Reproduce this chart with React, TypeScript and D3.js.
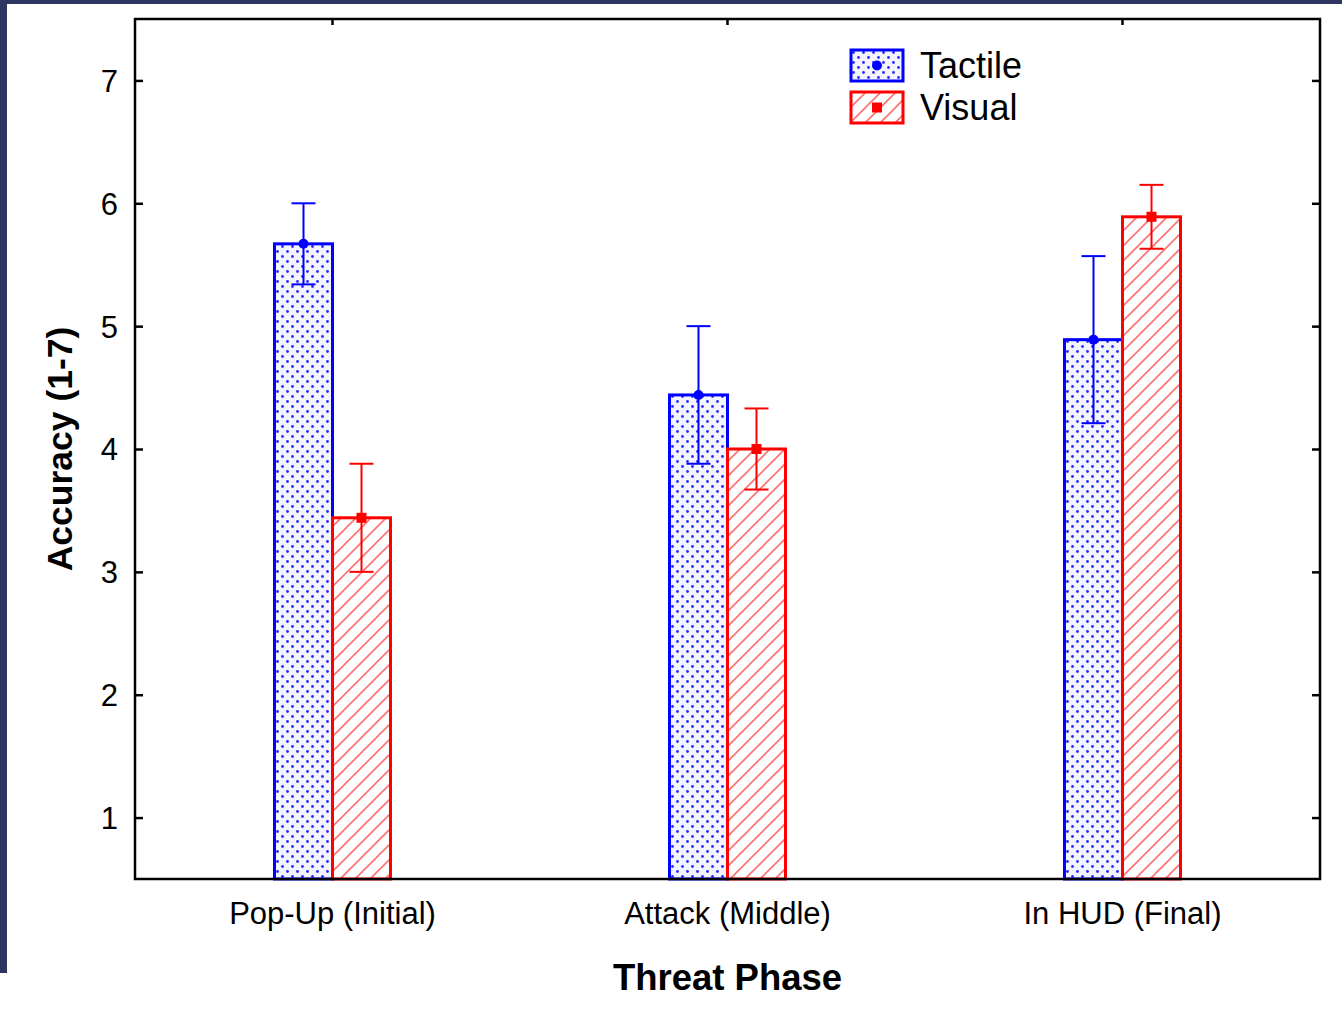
import * as d3 from "d3";
import { useEffect, useRef } from "react";

// chart values
const phases = ["Pop-Up (Initial)", "Attack (Middle)", "In HUD (Final)"];
const groups = ["Tactile", "Visual"];
const tactileMean = [5.67, 4.44, 4.89];
const tactileErr = [0.33, 0.56, 0.68];
const visualMean = [3.44, 4.0, 5.89];
const visualErr = [0.44, 0.33, 0.26];
const yTicks = [1, 2, 3, 4, 5, 6, 7];

const App = () => {
  const ref = useRef<SVGSVGElement>(null);

  useEffect(() => {
    const W = 1342, H = 1027;
    const margin = { top: 19, right: 22, bottom: 148, left: 135 };
    const width = W - margin.left - margin.right;
    const height = H - margin.top - margin.bottom;
    const font = "'Liberation Sans', Arial, sans-serif";

    const svg = d3.select(ref.current);
    svg.selectAll("*").remove();

    // the dark frame around the slide
    svg.append("rect").attr("x", 0).attr("y", 0).attr("width", W).attr("height", 4).attr("fill", "#2e3560");
    svg.append("rect").attr("x", 0).attr("y", 0).attr("width", 7).attr("height", 973).attr("fill", "#2e3560");

    const defs = svg.append("defs");
    const dots = defs.append("pattern")
      .attr("id", "dots").attr("patternUnits", "userSpaceOnUse")
      .attr("width", 10).attr("height", 10);
    dots.append("rect").attr("width", 10).attr("height", 10).attr("fill", "#f4f4ff");
    dots.append("circle").attr("cx", 2.5).attr("cy", 2.5).attr("r", 1.4).attr("fill", "#2a2aff");
    dots.append("circle").attr("cx", 7.5).attr("cy", 7.5).attr("r", 1.4).attr("fill", "#2a2aff");

    const hatch = defs.append("pattern")
      .attr("id", "hatch").attr("patternUnits", "userSpaceOnUse")
      .attr("width", 15).attr("height", 15);
    hatch.append("rect").attr("width", 15).attr("height", 15).attr("fill", "#fff");
    hatch.append("path").attr("d", "M-4,4 L4,-4 M0,15 L15,0 M11,19 L19,11")
      .attr("stroke", "#ff7070").attr("stroke-width", 1.6);

    const g = svg.append("g").attr("transform", `translate(${margin.left},${margin.top})`);

    const x = d3.scaleBand().domain(phases).range([0, width]);
    const xs = d3.scaleBand().domain(groups).range([-58, 58]);
    const y = d3.scaleLinear().domain([0.5, 7.5]).range([height, 0]);

    const series = [
      { name: "Tactile", mean: tactileMean, err: tactileErr, color: "#0000ff", fill: "url(#dots)" },
      { name: "Visual", mean: visualMean, err: visualErr, color: "#ff0000", fill: "url(#hatch)" },
    ];

    series.forEach((s) => {
      const data = phases.map((p, i) => ({ p, v: s.mean[i], e: s.err[i] }));
      const bx = (p: string) => x(p)! + x.bandwidth() / 2 + xs(s.name)!;
      g.selectAll(null).data(data).enter().append("rect")
        .attr("x", (d) => bx(d.p))
        .attr("y", (d) => y(d.v))
        .attr("width", xs.bandwidth())
        .attr("height", (d) => height - y(d.v))
        .attr("fill", s.fill)
        .attr("stroke", s.color).attr("stroke-width", 3);
    });

    series.forEach((s) => {
      const data = phases.map((p, i) => ({ p, v: s.mean[i], e: s.err[i] }));
      const cx = (p: string) => x(p)! + x.bandwidth() / 2 + xs(s.name)! + xs.bandwidth() / 2;
      const eb = g.selectAll(null).data(data).enter().append("g").attr("stroke", s.color).attr("stroke-width", 2);
      eb.append("line").attr("x1", (d) => cx(d.p)).attr("x2", (d) => cx(d.p))
        .attr("y1", (d) => y(d.v + d.e)).attr("y2", (d) => y(d.v - d.e));
      eb.append("line").attr("x1", (d) => cx(d.p) - 12).attr("x2", (d) => cx(d.p) + 12)
        .attr("y1", (d) => y(d.v + d.e)).attr("y2", (d) => y(d.v + d.e));
      eb.append("line").attr("x1", (d) => cx(d.p) - 12).attr("x2", (d) => cx(d.p) + 12)
        .attr("y1", (d) => y(d.v - d.e)).attr("y2", (d) => y(d.v - d.e));
      if (s.name === "Tactile") {
        g.selectAll(null).data(data).enter().append("circle")
          .attr("cx", (d) => cx(d.p)).attr("cy", (d) => y(d.v)).attr("r", 5).attr("fill", s.color);
      } else {
        g.selectAll(null).data(data).enter().append("rect")
          .attr("x", (d) => cx(d.p) - 5).attr("y", (d) => y(d.v) - 5)
          .attr("width", 10).attr("height", 10).attr("fill", s.color);
      }
    });

    // axes: ticks point inward
    const left = g.append("g").call(d3.axisLeft(y).tickValues(yTicks).tickSize(-8).tickPadding(17).tickFormat(d3.format("d")));
    const right = g.append("g").attr("transform", `translate(${width},0)`)
      .call(d3.axisRight(y).tickValues(yTicks).tickSize(-8).tickFormat(() => ""));
    const top = g.append("g").call(d3.axisTop(x).tickSize(-6).tickFormat(() => ""));
    const bottom = g.append("g").attr("transform", `translate(0,${height})`)
      .call(d3.axisBottom(x).tickSize(0).tickPadding(23));
    [left, right, top, bottom].forEach((a) => {
      a.select(".domain").remove();
      a.selectAll("line").attr("stroke", "#000").attr("stroke-width", 2.5);
      a.selectAll("text").attr("font-family", font).attr("font-size", 31).attr("fill", "#000");
    });
    left.selectAll("text").attr("dy", "0.35em");
    bottom.selectAll("text").attr("dy", "0.71em");

    g.append("rect").attr("width", width).attr("height", height)
      .attr("fill", "none").attr("stroke", "#000").attr("stroke-width", 2.5);

    // axis titles
    g.append("text").attr("x", width / 2).attr("y", height + 98)
      .attr("dy", "0.35em").attr("text-anchor", "middle")
      .attr("font-family", font).attr("font-size", 36.5).attr("font-weight", "bold").text("Threat Phase");
    g.append("text").attr("transform", `translate(${60 - margin.left},${y(4)}) rotate(-90)`)
      .attr("dy", "0.35em").attr("text-anchor", "middle")
      .attr("font-family", font).attr("font-size", 35.5).attr("font-weight", "bold").text("Accuracy (1-7)");

    // legend
    const lg = svg.append("g").attr("transform", "translate(851,50)");
    series.forEach((s, i) => {
      const row = lg.append("g").attr("transform", `translate(0,${i * 42})`);
      row.append("rect").attr("width", 52).attr("height", 31)
        .attr("fill", s.fill).attr("stroke", s.color).attr("stroke-width", 3);
      if (s.name === "Tactile") row.append("circle").attr("cx", 26).attr("cy", 15.5).attr("r", 5).attr("fill", s.color);
      else row.append("rect").attr("x", 21).attr("y", 10.5).attr("width", 10).attr("height", 10).attr("fill", s.color);
      row.append("text").attr("x", 69).attr("y", 15.5).attr("dy", "0.35em")
        .attr("font-family", font).attr("font-size", 36).text(s.name);
    });
  }, []);

  return <svg ref={ref} width={1342} height={1027} style={{ position: "absolute", left: 0, top: 0, background: "#fff" }} />;
};

export default App;
